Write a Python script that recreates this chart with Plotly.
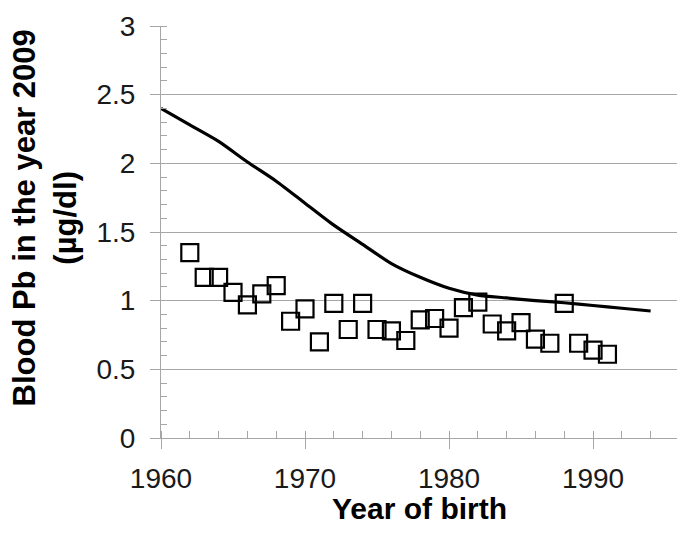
import plotly.graph_objects as go

# measured blood Pb by year of birth (open squares)
birth_years = [1962, 1963, 1964, 1965, 1966, 1967, 1968, 1969, 1970, 1971,
               1972, 1973, 1974, 1975, 1976, 1977, 1978, 1979, 1980, 1981,
               1982, 1983, 1984, 1985, 1986, 1987, 1988, 1989, 1990, 1991]
blood_pb = [1.35, 1.17, 1.17, 1.06, 0.97, 1.05, 1.11, 0.85, 0.94, 0.70,
            0.98, 0.79, 0.98, 0.79, 0.78, 0.71, 0.86, 0.87, 0.80, 0.95,
            0.99, 0.83, 0.78, 0.84, 0.72, 0.69, 0.98, 0.69, 0.64, 0.61]

# model curve (solid line)
model_years = [1960, 1962, 1964, 1966, 1968, 1970, 1972, 1974, 1976,
               1978, 1980, 1982, 1984, 1986, 1988, 1990, 1992, 1994]
model_pb = [2.40, 2.28, 2.16, 2.01, 1.87, 1.71, 1.55, 1.41, 1.27,
            1.17, 1.09, 1.04, 1.02, 1.00, 0.985, 0.965, 0.945, 0.925]

FONT = "Liberation Sans, Arial, sans-serif"
GRID = "#a6a6a6"

fig = go.Figure()
fig.add_trace(
    go.Scatter(
        x=birth_years, y=blood_pb,
        mode="markers", name="measured",
        marker={"symbol": "square-open", "size": 17, "color": "black",
                "line": {"width": 2.2, "color": "black"}},
    ),
)
fig.add_trace(
    go.Scatter(
        x=model_years, y=model_pb,
        mode="lines", name="model",
        line={"color": "black", "width": 3.2, "shape": "spline", "smoothing": 0.7},
    ),
)

# page body has an 8px margin, keep the figure inside the window
fig.update_layout(
    width=669, height=517,
    showlegend=False,
    plot_bgcolor="white", paper_bgcolor="white",
    margin={"l": 153, "r": 0, "t": 18, "b": 87},
    font={"family": FONT, "size": 28, "color": "#1a1a1a"},
    annotations=[
        dict(
            text="<b>Blood Pb in the year 2009<br>(µg/dl)</b>",
            textangle=-90,
            xref="paper", yref="paper", x=-0.225, y=0.535,
            xanchor="center", yanchor="middle",
            showarrow=False,
            font={"size": 31, "color": "black"},
        ),
        dict(
            text="<b>Year of birth</b>",
            xref="paper", yref="paper", x=0.5, y=-0.17,
            xanchor="center", yanchor="middle",
            height=30, valign="middle",
            showarrow=False,
            font={"size": 30, "color": "black"},
        ),
    ],
)
fig.update_xaxes(
    range=[1960, 1995.83],
    tickvals=[1960, 1970, 1980, 1990],
    showgrid=False,
    showline=True, linecolor=GRID, linewidth=1,
    ticks="outside", ticklen=10, tickcolor=GRID,
    ticklabelstandoff=5,
    minor={"ticks": "inside", "dtick": 2, "ticklen": 7, "tickcolor": GRID},
    tickfont={"size": 28},
)
fig.update_yaxes(
    range=[0, 3],
    tickvals=[0, 0.5, 1, 1.5, 2, 2.5, 3],
    ticktext=["0", "0.5", "1", "1.5", "2", "2.5", "3"],
    showgrid=True, gridcolor=GRID, gridwidth=1,
    showline=True, linecolor=GRID, linewidth=1,
    zeroline=False,
    ticks="outside", ticklen=10, tickcolor=GRID,
    ticklabelstandoff=9,
    minor={"ticks": "inside", "dtick": 0.1, "ticklen": 6, "tickcolor": GRID,
           "showgrid": False},
    tickfont={"size": 28},
)

fig.write_html("out.html")
